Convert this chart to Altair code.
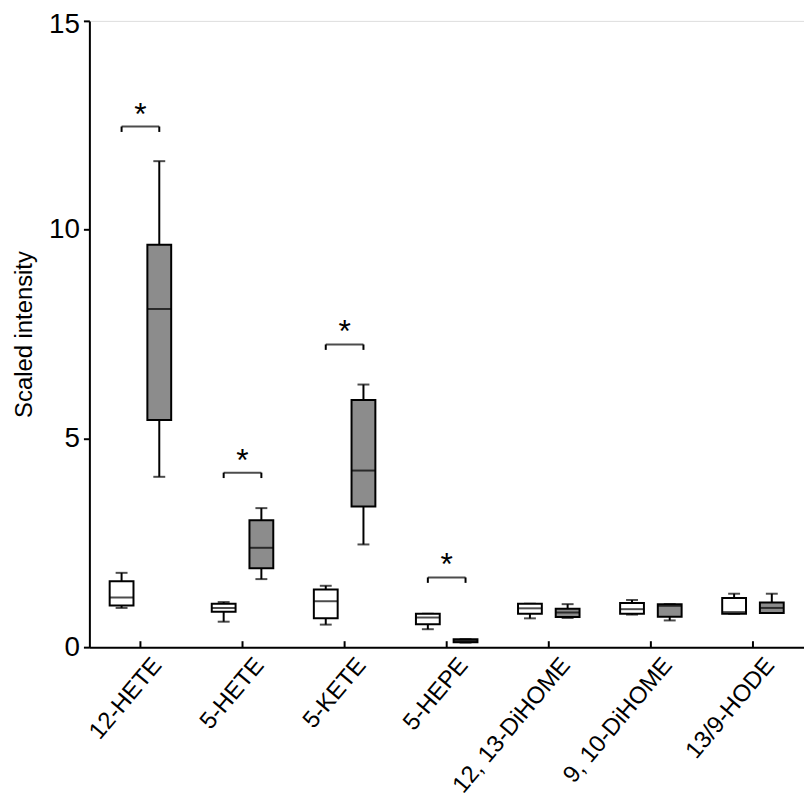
import altair as alt
import pandas as pd

categories = ["12-HETE", "5-HETE", "5-KETE", "5-HEPE",
              "12, 13-DiHOME", "9, 10-DiHOME", "13/9-HODE"]
groups = ["Control", "Treated"]

# Control (white boxes)
ctrl_lo = [0.94, 0.61, 0.54, 0.43, 0.69, 0.78, 0.80]
ctrl_q1 = [1.00, 0.85, 0.69, 0.55, 0.80, 0.80, 0.80]
ctrl_med = [1.19, 0.94, 1.10, 0.71, 0.93, 0.91, 0.84]
ctrl_q3 = [1.58, 1.04, 1.38, 0.80, 1.04, 1.06, 1.18]
ctrl_hi = [1.78, 1.08, 1.47, 0.80, 1.04, 1.13, 1.28]

# Treated (grey boxes)
trt_lo = [4.08, 1.63, 2.46, 0.11, 0.70, 0.64, 0.82]
trt_q1 = [5.44, 1.89, 3.37, 0.12, 0.72, 0.73, 0.82]
trt_med = [8.10, 2.38, 4.23, 0.15, 0.83, 0.99, 0.94]
trt_q3 = [9.64, 3.04, 5.92, 0.19, 0.92, 1.03, 1.07]
trt_hi = [11.64, 3.33, 6.29, 0.19, 1.03, 1.03, 1.28]

# significance brackets
sig_cats = ["12-HETE", "5-HETE", "5-KETE", "5-HEPE"]
sig_y = [12.47, 4.18, 7.25, 1.67]

rows = []
for i, c in enumerate(categories):
    rows.append(dict(cat=c, grp="Control", lo=ctrl_lo[i], q1=ctrl_q1[i],
                     med=ctrl_med[i], q3=ctrl_q3[i], hi=ctrl_hi[i]))
    rows.append(dict(cat=c, grp="Treated", lo=trt_lo[i], q1=trt_q1[i],
                     med=trt_med[i], q3=trt_q3[i], hi=trt_hi[i]))
box_df = pd.DataFrame(rows)

brk_rows = []
for c, y in zip(sig_cats, sig_y):
    for g in groups:
        brk_rows.append(dict(cat=c, grp=g, y=y, y2=y - 0.13))
brk_df = pd.DataFrame(brk_rows)
sig_df = pd.DataFrame(dict(cat=sig_cats, y=sig_y, star=["*"] * len(sig_cats)))
cat_df = pd.DataFrame(dict(cat=categories))

FONT = "Liberation Sans"
W, H = 720, 631

x_enc = alt.X("cat:N", sort=categories, title=None,
              scale=alt.Scale(domain=categories, paddingInner=0, paddingOuter=0),
              axis=alt.Axis(labelAngle=310, labelFontSize=24, labelFont=FONT,
                            labelColor="black", ticks=False, domainColor="black",
                            domainWidth=2, labelPadding=6, labelAlign="right",
                            labelBaseline="top", labelOverlap=False,
                            labelOffset=8, grid=False))
xo_enc = alt.XOffset("grp:N", scale=alt.Scale(domain=groups, paddingInner=0,
                                              paddingOuter=0.354))
y_scale = alt.Scale(domain=[0, 15], nice=False, zero=True)
y_enc_axis = alt.Y("lo:Q", scale=y_scale, title="Scaled intensity",
                   axis=alt.Axis(values=[0, 5, 10, 15], labelFontSize=28,
                                 labelFont=FONT, labelColor="black",
                                 titleFont=FONT, titleFontSize=24,
                                 titleFontWeight="normal", titleColor="black",
                                 tickSize=6, tickWidth=2, tickColor="black",
                                 domainColor="black", domainWidth=2,
                                 grid=False, labelPadding=4, titlePadding=12,
                                 labelOffset={"condition": {"test": "datum.value == 15", "value": 4},
                                              "value": 0}))

base = alt.Chart(box_df)

whisk = base.mark_rule(color="black", strokeWidth=2).encode(
    x=x_enc, xOffset=xo_enc, y=y_enc_axis, y2="hi:Q")
cap_hi = base.mark_tick(color="black", size=12, thickness=2).encode(
    x=x_enc, xOffset=xo_enc, y=alt.Y("hi:Q", scale=y_scale))
cap_lo = base.mark_tick(color="black", size=12, thickness=2).encode(
    x=x_enc, xOffset=xo_enc, y=alt.Y("lo:Q", scale=y_scale))
boxes = base.mark_bar(size=24, stroke="black", strokeWidth=2).encode(
    x=x_enc, xOffset=xo_enc,
    y=alt.Y("q1:Q", scale=y_scale), y2="q3:Q",
    fill=alt.Fill("grp:N", scale=alt.Scale(domain=groups,
                                           range=["#ffffff", "#8c8c8c"]),
                  legend=None))
med = base.mark_tick(color="black", size=24, thickness=2).encode(
    x=x_enc, xOffset=xo_enc, y=alt.Y("med:Q", scale=y_scale))

xticks = alt.Chart(cat_df).mark_rule(color="black", strokeWidth=2).encode(
    x=x_enc, y=alt.value(H), y2=alt.value(H - 6))

brk_h = alt.Chart(sig_df).mark_tick(color="black", size=38, thickness=2).encode(
    x=x_enc, y=alt.Y("y:Q", scale=y_scale))
brk_v = alt.Chart(brk_df).mark_rule(color="black", strokeWidth=2).encode(
    x=x_enc, xOffset=xo_enc, y=alt.Y("y:Q", scale=y_scale), y2="y2:Q")
stars = alt.Chart(sig_df).mark_text(font=FONT, fontSize=32, color="black",
                                    baseline="middle", dy=-12).encode(
    x=x_enc, y=alt.Y("y:Q", scale=y_scale), text="star:N")

chart = alt.layer(whisk, cap_hi, cap_lo, boxes, med, xticks, brk_h, brk_v, stars).properties(
    width=W, height=H,
    autosize=alt.AutoSizeParams(type="none"),
    padding={"left": 82, "top": 10, "right": 0, "bottom": 149},
).configure_view(stroke="transparent", strokeWidth=0).configure_axis(
    grid=False
).configure(background="white")

chart.save("out.html", embed_options={"renderer": "svg", "actions": False})
